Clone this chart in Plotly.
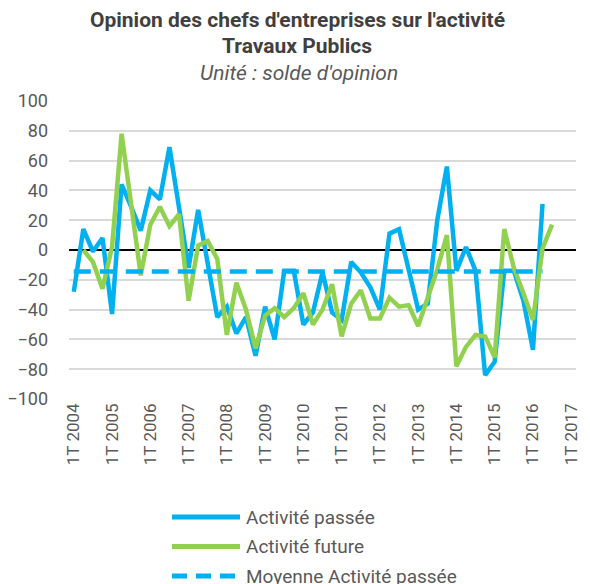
import plotly.graph_objects as go

# quarters 1T 2004 .. 1T 2017
years = list(range(2004, 2018))
quarters = [f"{q}T {y}" for y in years for q in (1, 2, 3, 4)][:53]
tick_labels = [f"1T {y}" for y in years]

activite_passee = [
    -28, 14, -1, 8, -43, 44, 29, 13, 40, 34,
    69, 28, -12, 27, -10, -45, -38, -56, -45, -71,
    -38, -60, -14, -14, -50, -42, -15, -42, -47, -8,
    -15, -25, -40, 11, 14, -13, -40, -36, 20, 56,
    -14, 2, -14, -84, -75, -14, -14, -34, -67, 31,
]
activite_future = [
    None, 0, -8, -26, 2, 78, 30, -17, 17, 29,
    16, 24, -34, 3, 6, -6, -57, -22, -40, -66,
    -44, -39, -45, -39, -29, -50, -40, -23, -58, -36,
    -27, -46, -46, -32, -38, -37, -51, -31, -13, 10,
    -78, -65, -57, -58, -72, 14, -12, -29, -47, 1,
    17,
]
moyenne_passee = [-14.5] * 50

BLUE = "#00B0F0"
GREEN = "#92D050"
GREY = "#595959"

# page body has an 8px margin, so the figure is laid out 8px smaller
W, H = 582, 576
L, T = 61, 93
PW, PH = 507, 298


def px_x(x):
    # page pixel -> paper fraction
    return (x - 8 - L) / PW


def px_y(y):
    return (T + PH - (y - 8)) / PH


fig = go.Figure()
fig.add_trace(go.Scatter(x=quarters[:len(activite_passee)], y=activite_passee,
                         mode="lines", line=dict(color=BLUE, width=4.5),
                         name="Activité passée"))
fig.add_trace(go.Scatter(x=quarters[:len(activite_future)], y=activite_future,
                         mode="lines", line=dict(color=GREEN, width=4.5),
                         name="Activité future"))
fig.add_trace(go.Scatter(x=quarters[:len(moyenne_passee)], y=moyenne_passee,
                         mode="lines", line=dict(color=BLUE, width=4.5, dash="17px,9px"),
                         name="Moyenne Activité passée"))

# hand-drawn legend (longer line keys than plotly's own legend)
legend_items = [("Activité passée", BLUE, "solid"),
                ("Activité future", GREEN, "solid"),
                ("Moyenne Activité passée", BLUE, "15px,9px")]
shapes = []
annotations = []
for k, (label, col, dash) in enumerate(legend_items):
    yp = px_y(517 + 29.5 * k)
    shapes.append(dict(type="line", xref="paper", yref="paper",
                       x0=px_x(172), x1=px_x(240), y0=yp, y1=yp,
                       line=dict(color=col, width=5, dash=dash)))
    annotations.append(dict(text=label, xref="paper", yref="paper",
                            x=px_x(244), y=yp, xanchor="left", yanchor="middle",
                            showarrow=False, font=dict(size=19, color=GREY)))

# title block
annotations += [
    dict(text="<b>Opinion des chefs d'entreprises sur l'activité</b>", xref="paper", yref="paper",
         x=px_x(297), y=px_y(20), xanchor="center", yanchor="middle",
         showarrow=False, font=dict(size=21, color="#404040")),
    dict(text="<b>Travaux Publics</b>", xref="paper", yref="paper",
         x=px_x(297), y=px_y(46), xanchor="center", yanchor="middle",
         showarrow=False, font=dict(size=21, color="#404040")),
    dict(text="<i>Unité : solde d'opinion</i>", xref="paper", yref="paper",
         x=px_x(299), y=px_y(73), xanchor="center", yanchor="middle",
         showarrow=False, font=dict(size=21, color=GREY)),
]

fig.update_layout(
    width=W, height=H,
    margin=dict(l=L, r=W - L - PW, t=T, b=H - T - PH),
    plot_bgcolor="white", paper_bgcolor="white",
    font=dict(family="Roboto, Arial, sans-serif", color=GREY),
    showlegend=False,
    shapes=shapes,
    annotations=annotations,
    xaxis=dict(type="category", categoryorder="array", categoryarray=quarters,
               range=[-0.5, len(quarters) - 0.5],
               tickmode="array", tickvals=tick_labels, ticktext=tick_labels,
               tickangle=-90, tickfont=dict(size=17, color=GREY),
               showgrid=False, zeroline=False, showline=False, ticks="",
               automargin=False),
    yaxis=dict(range=[-100, 100], dtick=20, tickfont=dict(size=18, color=GREY),
               showgrid=True, gridcolor="#D9D9D9", gridwidth=1.5,
               zeroline=True, zerolinecolor="black", zerolinewidth=1.5,
               showline=False, ticks="", ticklabelstandoff=20, automargin=False),
)

fig.write_html("out.html")
